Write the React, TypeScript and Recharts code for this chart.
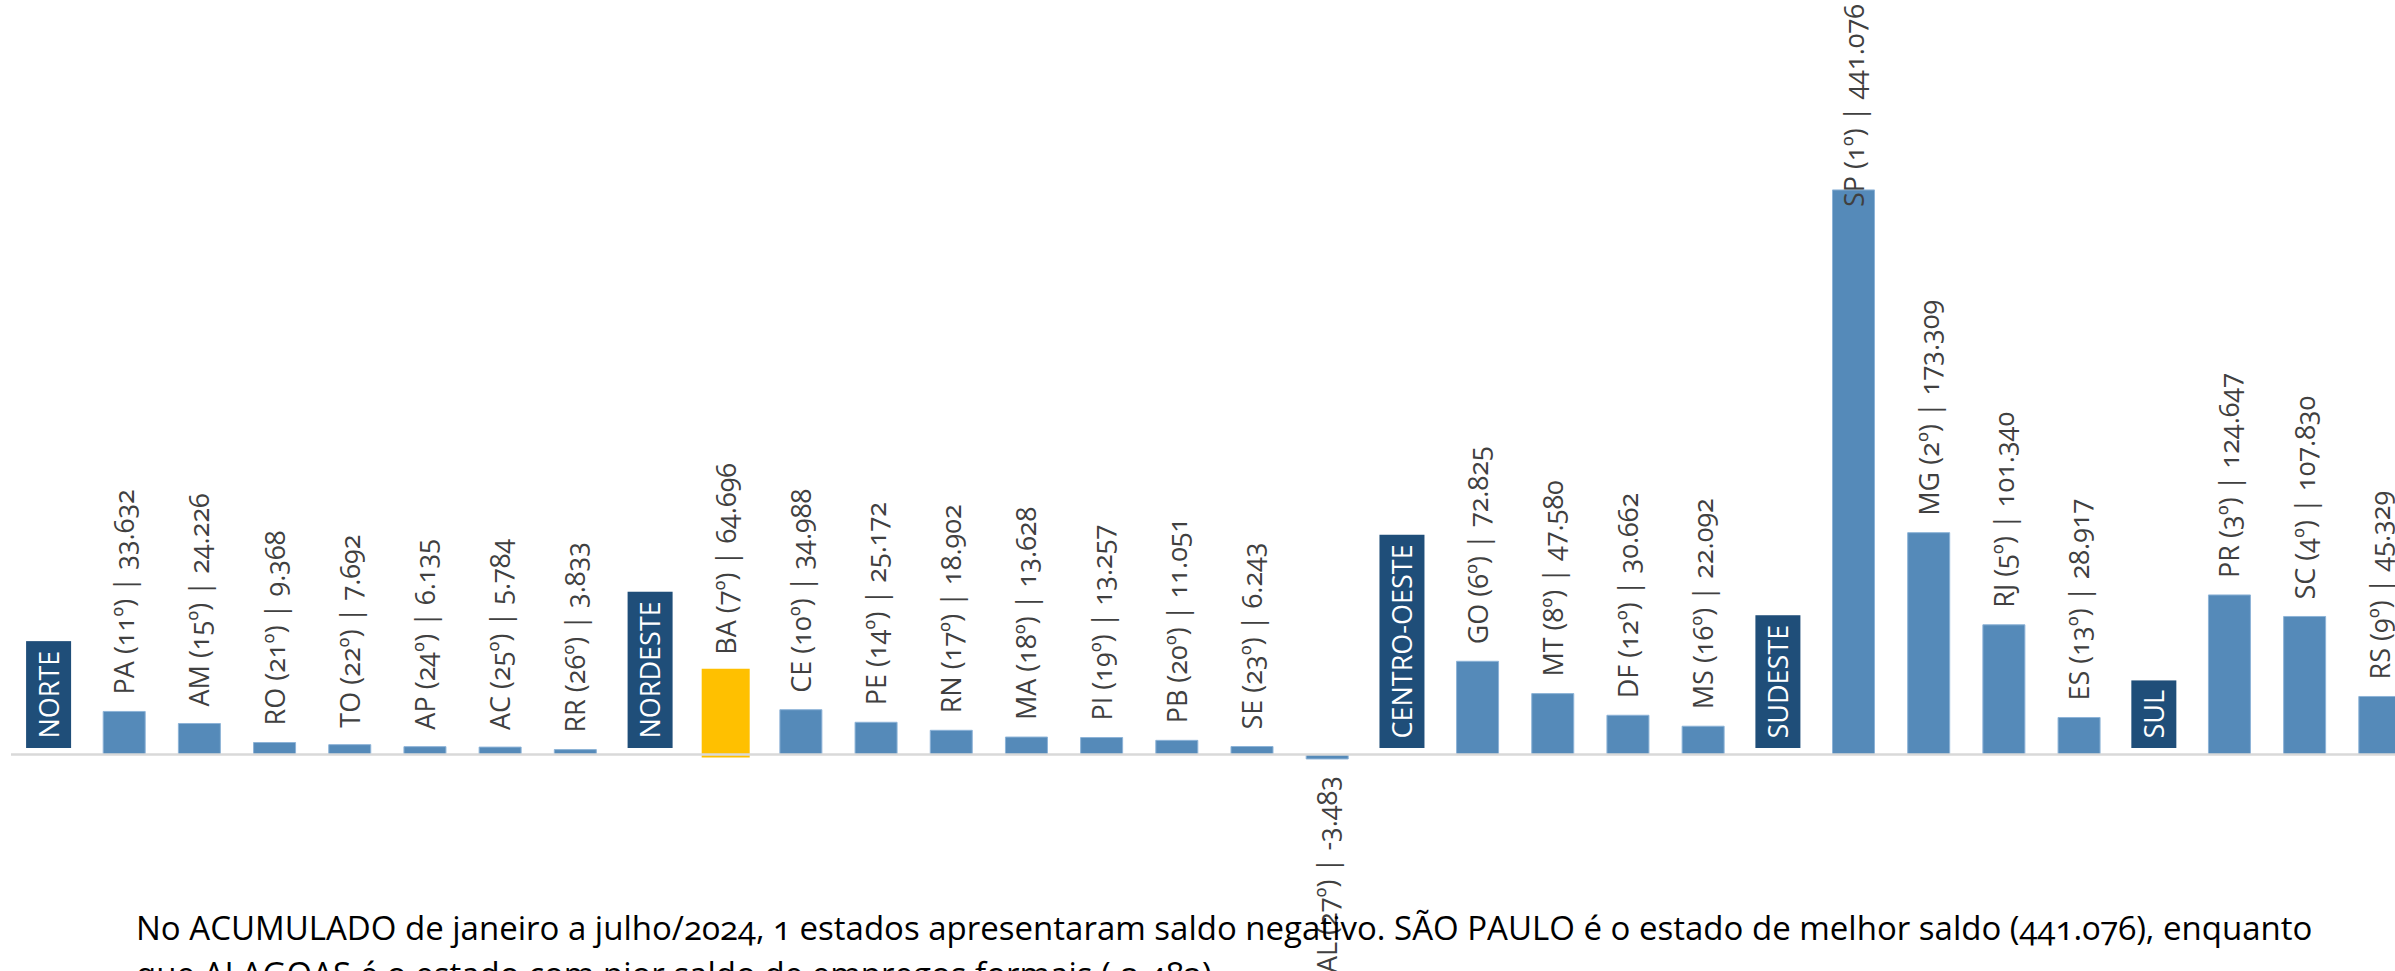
import React from "react"
import { BarChart, Bar, XAxis, YAxis, Cell, LabelList, ReferenceLine, ReferenceDot } from "recharts"

const categories = [
  "NORTE", "PA", "AM", "RO", "TO", "AP", "AC", "RR",
  "NORDESTE", "BA", "CE", "PE", "RN", "MA", "PI", "PB", "SE", "AL",
  "CENTRO-OESTE", "GO", "MT", "DF", "MS",
  "SUDESTE", "SP", "MG", "RJ", "ES",
  "SUL", "PR", "SC", "RS",
]

const saldo = [
  0, 33632, 24226, 9368, 7692, 6135, 5784, 3833,
  0, 64696, 34988, 25172, 18902, 13628, 13257, 11051, 6243, -3483,
  0, 72825, 47580, 30662, 22092,
  0, 441076, 173309, 101340, 28917,
  0, 124647, 107830, 45329,
]

const ranks = [
  0, 11, 15, 21, 22, 24, 25, 26,
  0, 7, 10, 14, 17, 18, 19, 20, 23, 27,
  0, 6, 8, 12, 16,
  0, 1, 2, 5, 13,
  0, 3, 4, 9,
]

const regions = ["NORTE", "NORDESTE", "CENTRO-OESTE", "SUDESTE", "SUL"]
const highlight = "BA"

const data = categories.map((name, i) => ({ name, value: saldo[i], rank: ranks[i] }))

const FONT = "'Open Sans', 'Noto Sans', sans-serif"
const LABEL_SIZE = 27
const REGION_SIZE = 27

let ctx: CanvasRenderingContext2D | null = null
function textWidth(t: string, size: number) {
  if (!ctx) ctx = document.createElement("canvas").getContext("2d")
  if (!ctx) return t.length * size * 0.5
  ctx.font = `${size}px 'Open Sans'`
  return ctx.measureText(t).width
}

function fmt(n: number) {
  const s = Math.abs(n).toString().replace(/\B(?=(\d{3})+(?!\d))/g, ".")
  return (n < 0 ? "-" : "") + s
}

const renderLabel = (props: any) => {
  const { x, y, width, height, value } = props
  const i = saldo.indexOf(Number(value))
  if (i < 0 || regions.includes(categories[i])) return null
  const cx = x + width / 2
  const top = Math.min(y, y + height)
  const bottom = Math.max(y, y + height)

  const label = `${categories[i]} (${ranks[i]}º) | ${fmt(saldo[i])}`
  const len = textWidth(label, LABEL_SIZE)
  let ly = top - 17
  let anchor = "start"
  if (saldo[i] < 0) {
    ly = bottom + 17
    anchor = "end"
  } else if (ly - len < 4) {
    ly = 4
    anchor = "end"
  }
  return (
    <text
      x={cx + 10}
      y={ly}
      textAnchor={anchor}
      transform={`rotate(-90, ${cx + 10}, ${ly})`}
      fill="#404040"
      fontSize={LABEL_SIZE}
      fontFamily={FONT}
      style={{ fontVariantNumeric: "oldstyle-nums" }}
    >
      {label}
    </text>
  )
}

const regionBox = (name: string) => (props: any) => {
  const { cx, cy } = props
  const len = textWidth(name, REGION_SIZE)
  const boxH = len + 19
  const boxBottom = cy - 6.5
  const my = boxBottom - boxH / 2
  return (
    <g>
      <rect x={cx - 22.5} y={boxBottom - boxH} width={45} height={boxH} fill="#1F4E79" />
      <text
        x={cx + 10}
        y={my}
        textAnchor="middle"
        transform={`rotate(-90, ${cx + 10}, ${my})`}
        fill="#ffffff"
        fontSize={REGION_SIZE}
        fontFamily={FONT}
      >
        {name}
      </text>
    </g>
  )
}

export default function App() {
  return (
    <div
      style={{
        position: "absolute",
        left: 0,
        top: 0,
        width: 2395,
        height: 971,
        overflow: "hidden",
        background: "#ffffff",
      }}
    >
      <BarChart
        width={2420}
        height={971}
        data={data}
        margin={{ top: 5, right: 3, bottom: 0, left: 11 }}
      >
        <XAxis dataKey="name" hide />
        <YAxis hide type="number" domain={[-169140, 585547]} allowDataOverflow />
        <ReferenceLine y={0} stroke="#D9D9D9" strokeWidth={2.5} />
        <Bar dataKey="value" barSize={42} isAnimationActive={false}>
          {data.map((d, i) => (
            <Cell
              key={`cell-${i}`}
              fill={d.name === highlight ? "#FFC000" : "#558AB9"}
              stroke={d.name === highlight ? "#FFC000" : "#8DB3D7"}
              strokeWidth={d.name === highlight ? 6 : 1}
            />
          ))}
          <LabelList dataKey="value" content={renderLabel} />
        </Bar>
        {regions.map((r) => (
          <ReferenceDot
            key={r}
            x={r}
            y={0}
            r={1}
            ifOverflow="visible"
            shape={regionBox(r)}
          />
        ))}
      </BarChart>
      <div
        style={{
          position: "absolute",
          left: 136,
          top: 905,
          fontFamily: FONT,
          fontSize: 33,
          lineHeight: "46px",
          color: "#000000",
          whiteSpace: "nowrap",
          fontVariantNumeric: "oldstyle-nums",
        }}
      >
        <div>
          No ACUMULADO de janeiro a julho/2024, 1 estados apresentaram saldo negativo. SÃO PAULO é o estado de melhor saldo (441.076), enquanto
        </div>
        <div>que ALAGOAS é o estado com pior saldo de empregos formais (-3.483).</div>
      </div>
    </div>
  )
}
